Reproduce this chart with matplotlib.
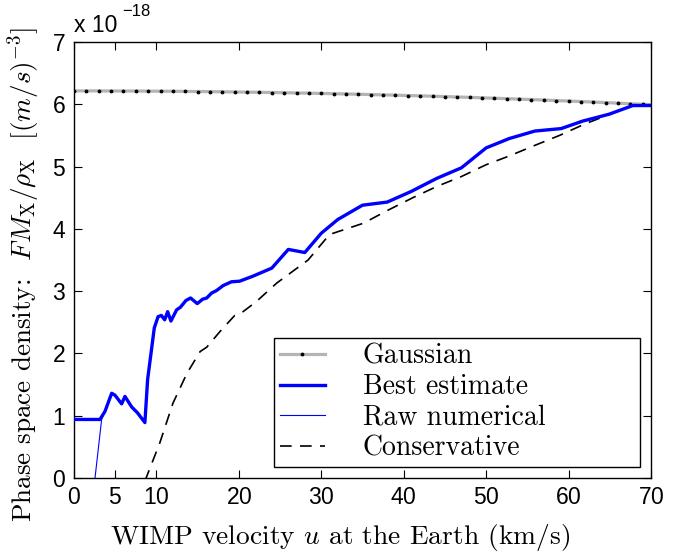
import matplotlib
matplotlib.use('Agg')
import matplotlib.pyplot as plt

# Gaussian model (grey line with dots)
gauss_u = [0, 1.5, 3, 4.5, 6, 7.5, 9, 10.5, 12, 13.5, 15, 16.5, 18, 19.5, 21, 22.5,
           24, 25.5, 27, 28.5, 30, 31.5, 33, 34.5, 36, 37.5, 39, 40.5, 42, 43.5, 45,
           46.5, 48, 49.5, 51, 52.5, 54, 55.5, 57, 58.5, 60, 61.5, 63, 64.5, 66, 67.5,
           69, 70]
gauss_f = [6.215, 6.215, 6.215, 6.214, 6.213, 6.213, 6.211, 6.210, 6.209, 6.207,
           6.205, 6.203, 6.200, 6.198, 6.195, 6.192, 6.189, 6.186, 6.182, 6.178,
           6.174, 6.170, 6.166, 6.161, 6.156, 6.151, 6.146, 6.141, 6.135, 6.130,
           6.124, 6.117, 6.111, 6.104, 6.097, 6.090, 6.083, 6.076, 6.068, 6.060,
           6.052, 6.044, 6.036, 6.027, 6.018, 6.009, 6.000, 5.994]

# Best estimate
best_u = [0, 3.15, 3.76, 4.57, 4.97, 5.78, 6.18, 7.0, 7.68, 8.6, 8.93, 9.74, 10.2,
          10.6, 11.0, 11.36, 11.76, 12.45, 12.9, 13.58, 14.14, 14.95, 15.6, 16.1,
          16.7, 17.3, 18.1, 19.1, 20.1, 21.7, 24.0, 26.0, 28.0, 30.0, 32.0, 35.0,
          38.0, 40.9, 44.0, 47.0, 50.0, 52.8, 55.9, 59.1, 61.7, 64.9, 67.8, 70.0]
best_f = [0.94, 0.94, 1.07, 1.36, 1.33, 1.19, 1.31, 1.14, 1.05, 0.89, 1.58, 2.41,
          2.59, 2.61, 2.54, 2.67, 2.52, 2.70, 2.74, 2.85, 2.89, 2.80, 2.87, 2.89,
          2.97, 3.01, 3.09, 3.15, 3.16, 3.24, 3.37, 3.67, 3.62, 3.93, 4.15, 4.38,
          4.43, 4.60, 4.81, 4.98, 5.30, 5.45, 5.57, 5.61, 5.73, 5.84, 5.98, 5.98]

# Raw numerical: goes negative at low u, else same as best estimate
raw_u = [2.2, 3.35] + best_u[2:]
raw_f = [-0.41, 0.94] + best_f[2:]

# Conservative
cons_u = [8.6, 10.4, 12.0, 13.7, 15.3, 16.1, 17.7, 19.5, 20.5, 22.1, 24.6, 28.4,
          31.0, 35.1, 38.1, 41.1, 44.0, 47.0, 50.0, 52.8, 55.9, 58.9, 61.9, 65.0,
          67.8, 70.0]
cons_f = [-0.05, 0.56, 1.20, 1.68, 2.03, 2.10, 2.35, 2.61, 2.67, 2.83, 3.13, 3.50,
          3.91, 4.09, 4.30, 4.50, 4.68, 4.84, 5.03, 5.17, 5.34, 5.50, 5.68, 5.84,
          5.98, 5.98]

xticks = [0, 5, 10, 20, 30, 40, 50, 60, 70]
yticks = [0, 1, 2, 3, 4, 5, 6, 7]

plt.rcParams['mathtext.fontset'] = 'cm'
plt.rcParams['axes.formatter.use_mathtext'] = True
serif = 'cmr10'
sans = 'Liberation Sans'

fig = plt.figure(figsize=(6.9, 5.55), dpi=100)
ax = fig.add_axes([74/690, 1 - 478/555, 577/690, 436/555])

ax.plot(gauss_u, gauss_f, color='#b4b4b4', lw=2.3, marker='.', ms=3.5,
        mfc='k', mec='k', markevery=slice(0, 47), label='Gaussian')
ax.plot(best_u, best_f, color='#0000ff', lw=2.4, label='Best estimate', zorder=3)
ax.plot(raw_u, raw_f, color='#0000ff', lw=0.8, label='Raw numerical', zorder=2)
ax.plot(cons_u, cons_f, color='k', lw=1.2, dashes=[7, 5], label='Conservative')

# legend box stretched to the width it has in the picture
h, l = ax.get_legend_handles_labels()
leg = ax.legend(h, l, loc='lower left', mode='expand',
                bbox_to_anchor=((274 - 74) / 577, (478 - 467) / 436,
                                (640 - 274) / 577, 0.2),
                prop={'family': serif, 'size': 20},
                frameon=True, fancybox=False, framealpha=1, edgecolor='k',
                handlelength=1.65, handletextpad=1.35, labelspacing=0.15,
                borderpad=0.2, borderaxespad=0)
leg.get_frame().set_linewidth(1.0)

ax.set_xlim(0, 70)
ax.set_ylim(0, 7)
ax.set_xticks(xticks)
ax.set_yticks(yticks)
ax.tick_params(direction='in', top=True, right=True, length=6, width=0.8,
               labelsize=16.5, pad=6)
for t in ax.get_xticklabels() + ax.get_yticklabels():
    t.set_fontfamily(sans)
for s in ax.spines.values():
    s.set_linewidth(1.0)

ax.set_xlabel(r'WIMP velocity $u$ at the Earth (km/s)', fontfamily=serif,
              fontsize=19.8)
ax.xaxis.set_label_coords((340 - 74) / 577, -0.1)
ax.set_ylabel(r'Phase space density:  $FM_{\mathrm{X}}/\rho_{\mathrm{X}}$  $[(m/s)^{-3}]$',
              fontfamily=serif, fontsize=19.5)
ax.yaxis.set_label_coords((42 - 74) / 577, (478 - 275) / 436)

fig.text(74/690, 1 - 32/555, 'x 10', fontfamily=sans, fontsize=16.5, va='baseline')
fig.text(122/690, 1 - 16/555, '\u221218', fontfamily=sans, fontsize=12, va='baseline')

fig.savefig('out.png', dpi=100)
